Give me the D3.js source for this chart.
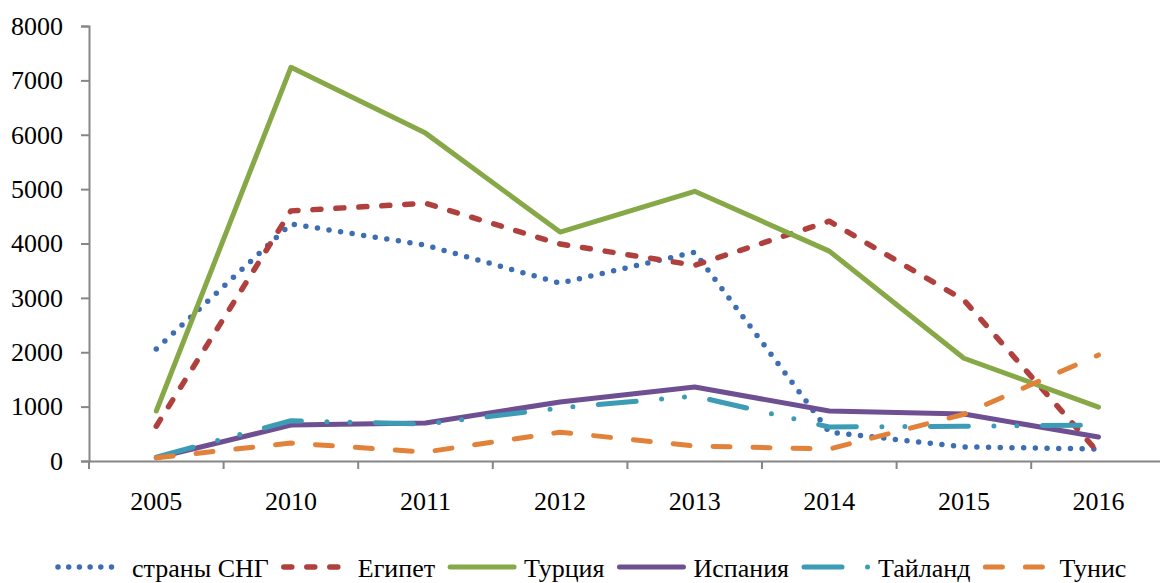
<!DOCTYPE html>
<html><head><meta charset="utf-8">
<script src="https://cdn.jsdelivr.net/npm/d3@7/dist/d3.min.js"></script>
<style>body{margin:0;background:#fff}svg{display:block}</style>
</head><body>
<svg id="c" width="1160" height="583"></svg>
<script>
const years = ["2005","2010","2011","2012","2013","2014","2015","2016"];
const yTicks = [0,1000,2000,3000,4000,5000,6000,7000,8000];
const seriesNames = ["страны СНГ","Египет","Турция","Испания","Тайланд","Тунис"];
const cis      = [2060,4360,3970,3270,3840,530,260,220];
const egypt    = [640,4600,4740,3990,3600,4410,2960,150];
const turkey   = [920,7240,6030,4210,4960,3860,1890,990];
const spain    = [60,660,700,1085,1360,920,865,440];
const thailand = [70,740,680,975,1195,625,640,660];
const tunisia  = [60,330,165,530,275,220,860,1950];
const seriesValues = [cis,egypt,turkey,spain,thailand,tunisia];

const styles = [
  {color:"#3d6db2", width:5.5, dash:"0 11.7"},
  {color:"#b0403d", width:5.5, dash:"8 15"},
  {color:"#87a846", width:5, dash:null},
  {color:"#6e5092", width:5, dash:null},
  {color:"#3c9cb5", width:5, dash:"38 25.5 0 23 0 25.5"},
  {color:"#e2823a", width:5, dash:"17 23"}
];

const svg = d3.select("#c");
const mLeft = 89, mRight = 89 + 8*134.6, mTop = 26, mBottom = 461;
const x = d3.scaleBand().domain(years).range([mLeft, mRight]);
const y = d3.scaleLinear().domain([0,8000]).range([mBottom, mTop]);
const axisColor = "#868686";
const fam = "'Liberation Serif', 'Times New Roman', serif";
const fs = "26px";

// y axis
const ya = svg.append("g").attr("transform",`translate(${mLeft},0)`)
  .call(d3.axisLeft(y).tickValues(yTicks).tickSize(8).tickPadding(18).tickFormat(d3.format("d")));
ya.select(".domain").attr("stroke",axisColor).attr("stroke-width",2);
ya.selectAll(".tick line").attr("stroke",axisColor).attr("stroke-width",2);
ya.selectAll(".tick text").style("font-family",fam).style("font-size",fs).attr("fill","#000");

// x axis
const xa = svg.append("g").attr("transform",`translate(0,${mBottom})`)
  .call(d3.axisBottom(x).tickSize(0).tickPadding(30.5));
xa.select(".domain").attr("stroke",axisColor).attr("stroke-width",2);
xa.selectAll(".tick text").style("font-family",fam).style("font-size",fs).attr("fill","#000");
// boundary tick marks
const bounds = years.map(d=>x(d)).concat([mRight]);
svg.append("g").selectAll("line").data(bounds).join("line")
  .attr("x1",d=>d).attr("x2",d=>d).attr("y1",mBottom).attr("y2",mBottom+8)
  .attr("stroke",axisColor).attr("stroke-width",2);

const line = d3.line().x((d,i)=>x(years[i])+x.bandwidth()/2).y(d=>y(d));
seriesValues.forEach((vals,k)=>{
  const s = styles[k];
  svg.append("path").datum(vals).attr("d",line)
    .attr("fill","none").attr("stroke",s.color).attr("stroke-width",s.width)
    .attr("stroke-linecap","round").attr("stroke-linejoin","round")
    .attr("stroke-dasharray",s.dash);
});

// legend
const lg = svg.append("g");
let lx = 55; const ly = 567;
seriesNames.forEach((name,k)=>{
  const s = styles[k];
  lg.append("line").attr("x1",lx+3).attr("x2",lx+67).attr("y1",ly).attr("y2",ly)
    .attr("stroke",s.color).attr("stroke-width",s.width).attr("stroke-linecap","round")
    .attr("stroke-dasharray",k===0 ? "0 10.7" : s.dash);
  const t = lg.append("text").attr("x",lx+77).attr("y",ly+10)
    .style("font-family",fam).style("font-size",fs).attr("fill","#000").text(name);
  const w = t.node().getComputedTextLength();
  lx = lx + 77 + w + 12;
});
</script>
</body></html>
